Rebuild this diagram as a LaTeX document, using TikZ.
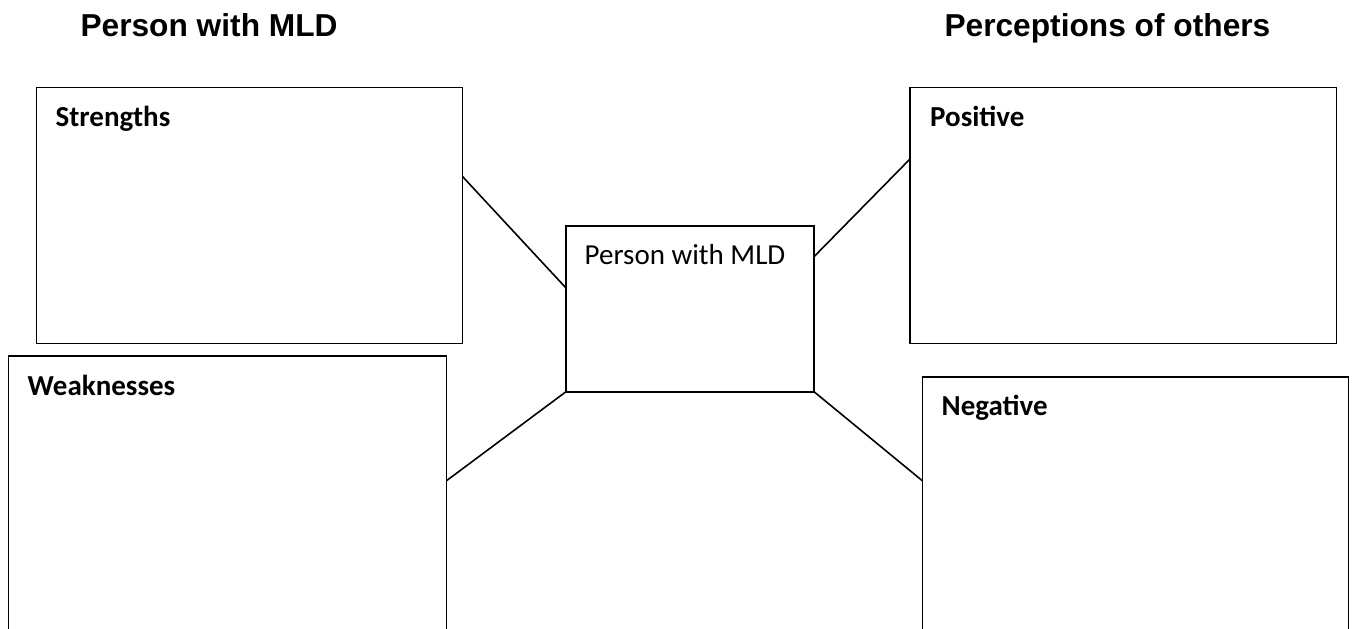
\documentclass[tikz,border=0pt]{standalone}
\usepackage{fontspec}
\setmainfont{Carlito}
\newfontfamily\arialfont{Liberation Sans}
\usetikzlibrary{calc}
\begin{document}
\begin{tikzpicture}[x=1pt,y=-1pt,
  boxnode/.style={draw,line width=1.6pt,rectangle,inner sep=0pt,outer sep=0pt,anchor=north west},
  lbl/.style={anchor=base west,inner sep=0pt,font=\fontsize{29}{34}\selectfont\bfseries},
  ctext/.style={anchor=base west,inner sep=0pt,font=\fontsize{29}{34}\selectfont},
  ttl/.style={anchor=base west,inner sep=0pt,font=\arialfont\fontsize{31.7}{38}\selectfont\bfseries},
  conn/.style={line width=1.6pt}]
\useasboundingbox (0,0) rectangle (1352,629);
\fill[white] (0,0) rectangle (1352,629);
\clip (0,0) rectangle (1352,629);
% titles
\node[ttl] (t1) at (80.3,36) {Person with MLD};
\node[ttl] (t2) at (944.3,36) {Perceptions of others};
% boxes
\node[boxnode,minimum width=426pt,minimum height=256pt] (s) at (36.5,87.5) {};
\node[boxnode,minimum width=426.5pt,minimum height=256pt] (p) at (910,87.5) {};
\node[boxnode,minimum width=438pt,minimum height=300pt] (w) at (8.5,356) {};
\node[boxnode,minimum width=426pt,minimum height=300pt] (n) at (922.3,376.7) {};
\node[boxnode,minimum width=248pt,minimum height=166pt] (c) at (566,225.7) {};
% labels
\node[lbl] (ls) at (55.5,126) {Strengths};
\node[lbl] (lp) at (930,126) {Positive};
\node[lbl] (lw) at (27.5,395) {Weaknesses};
\node[lbl] (ln) at (941.5,415) {Negative};
\node[ctext] (lc) at (584.5,264.3) {Person with MLD};
% connectors
\draw[conn] ([yshift=-89pt]s.north east) -- ([yshift=-62.3pt]c.north west);
\draw[conn] ([yshift=-31pt]c.north east) -- ([yshift=-71.5pt]p.north west);
\draw[conn] (c.south west) -- ([yshift=-124.7pt]w.north east);
\draw[conn] (c.south east) -- ([yshift=-104pt]n.north west);
\end{tikzpicture}
\end{document}
